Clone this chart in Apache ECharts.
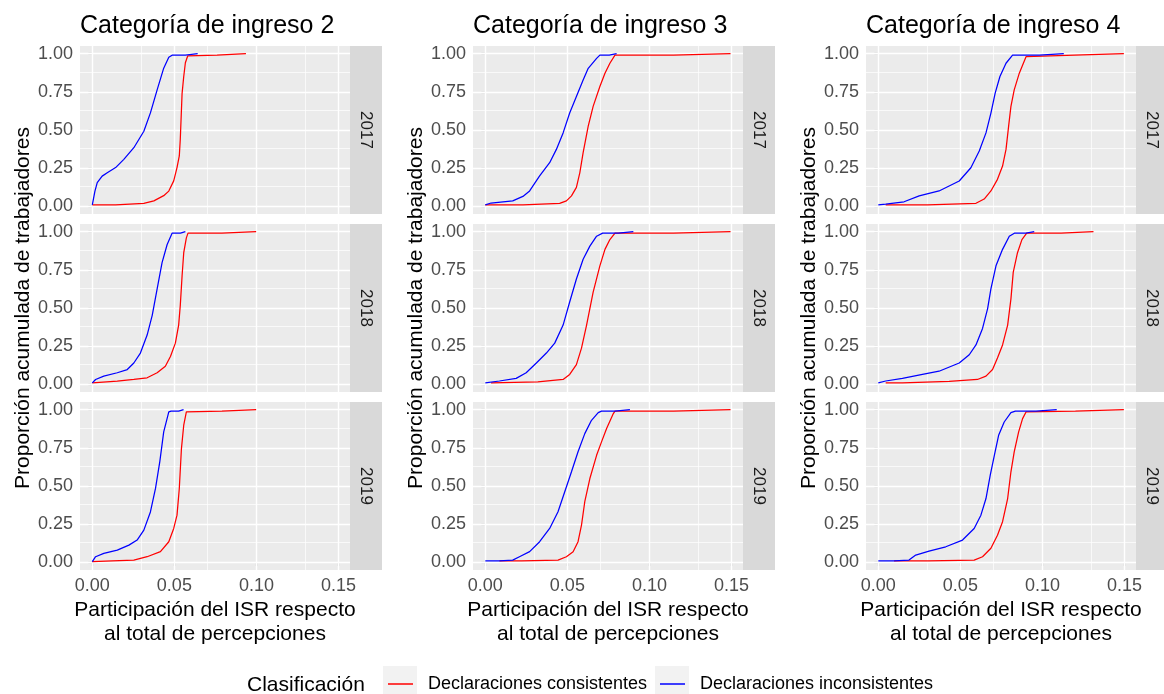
<!DOCTYPE html>
<html>
<head>
<meta charset="utf-8">
<script src="https://cdn.jsdelivr.net/npm/echarts@6/dist/echarts.min.js"></script>
<style>html,body{margin:0;padding:0;background:#fff}#c{width:1164px;height:694px}</style>
</head>
<body>
<div id="c"></div>
<script>
// ---------- DATA ----------
const panelTitles = ['Categoría de ingreso 2', 'Categoría de ingreso 3', 'Categoría de ingreso 4'];
const years = ['2017', '2018', '2019'];
const seriesNames = ['Declaraciones consistentes', 'Declaraciones inconsistentes'];
const xTicks = [0, 0.05, 0.10, 0.15];
const xMinor = [0.025, 0.075, 0.125];
const yTicks = [0, 0.25, 0.5, 0.75, 1];
const yMinor = [0.125, 0.375, 0.625, 0.875];

// Categoría 2
const c2_17_cons = [[0,0.01],[0.0142,0.01],[0.0142,0.02],[0.0314,0.02],[0.0375,0.036],[0.0435,0.07],[0.0466,0.10],[0.0496,0.167],[0.0516,0.254],[0.053,0.33],[0.0536,0.44],[0.0547,0.74],[0.0557,0.85],[0.0567,0.94],[0.0581,0.985],[0.059,0.99],[0.076,0.99],[0.077,1],[0.0936,1]];
const c2_17_inc = [[0,0.01],[0.0016,0.10],[0.003,0.156],[0.006,0.198],[0.0091,0.22],[0.0142,0.254],[0.0192,0.308],[0.0253,0.384],[0.0314,0.492],[0.0354,0.612],[0.0395,0.763],[0.0435,0.905],[0.0466,0.976],[0.0486,0.99],[0.0567,0.99],[0.0567,1],[0.0642,1]];
const c2_18_cons = [[0,0.01],[0.0152,0.022],[0.0253,0.032],[0.0334,0.043],[0.0395,0.076],[0.0445,0.119],[0.0476,0.183],[0.0506,0.27],[0.0526,0.388],[0.0536,0.517],[0.0547,0.711],[0.0557,0.862],[0.0573,0.959],[0.0583,0.99],[0.079,0.99],[0.079,1],[0.0998,1]];
const c2_18_inc = [[0,0.01],[0.002,0.032],[0.007,0.054],[0.0152,0.076],[0.0213,0.097],[0.0253,0.14],[0.0293,0.205],[0.0334,0.323],[0.0365,0.452],[0.0395,0.625],[0.0425,0.797],[0.0456,0.916],[0.0486,0.99],[0.0537,0.99],[0.0545,1],[0.0567,1]];
const c2_19_cons = [[0,0.005],[0.0122,0.01],[0.0253,0.015],[0.0334,0.037],[0.0415,0.07],[0.0466,0.135],[0.0496,0.222],[0.0516,0.309],[0.053,0.484],[0.0543,0.745],[0.0557,0.898],[0.0573,0.985],[0.058,0.99],[0.079,0.99],[0.079,1],[0.0998,1]];
const c2_19_inc = [[0,0.005],[0.002,0.037],[0.007,0.059],[0.0152,0.08],[0.0223,0.113],[0.0273,0.146],[0.0314,0.211],[0.0354,0.33],[0.0385,0.484],[0.0411,0.658],[0.0435,0.854],[0.0466,0.985],[0.048,0.99],[0.0526,0.99],[0.053,1],[0.0556,1]];
// Categoría 3
const c3_17_cons = [[0,0.01],[0.0229,0.01],[0.0229,0.02],[0.0453,0.02],[0.0494,0.036],[0.0525,0.069],[0.0555,0.124],[0.0576,0.221],[0.0596,0.352],[0.0627,0.525],[0.0657,0.655],[0.0698,0.785],[0.0729,0.872],[0.0759,0.937],[0.079,0.99],[0.1147,0.99],[0.1147,1],[0.1494,1]];
const c3_17_inc = [[0,0.01],[0.0035,0.022],[0.0167,0.036],[0.0229,0.065],[0.027,0.101],[0.0331,0.199],[0.0392,0.286],[0.0433,0.373],[0.0474,0.481],[0.0514,0.611],[0.0555,0.72],[0.0596,0.828],[0.0627,0.904],[0.0678,0.969],[0.0698,0.99],[0.0755,0.99],[0.0755,1],[0.08,1]];
const c3_18_cons = [[0.0035,0.01],[0.032,0.017],[0.033,0.03],[0.0474,0.032],[0.0514,0.065],[0.0555,0.129],[0.0586,0.237],[0.0617,0.388],[0.0657,0.604],[0.0698,0.776],[0.0729,0.884],[0.0759,0.948],[0.079,0.99],[0.1147,0.99],[0.1147,1],[0.1494,1]];
const c3_18_inc = [[0,0.01],[0.0086,0.022],[0.0188,0.039],[0.0249,0.076],[0.0311,0.14],[0.0372,0.205],[0.0423,0.27],[0.0474,0.388],[0.0514,0.539],[0.0555,0.69],[0.0596,0.819],[0.0637,0.905],[0.0678,0.97],[0.0715,0.99],[0.081,0.99],[0.081,1],[0.0902,1]];
const c3_19_cons = [[0.0086,0.01],[0.022,0.01],[0.022,0.015],[0.0443,0.015],[0.0494,0.037],[0.0535,0.07],[0.0565,0.135],[0.0586,0.244],[0.0606,0.397],[0.0637,0.549],[0.0678,0.701],[0.0708,0.789],[0.0739,0.876],[0.078,0.974],[0.079,0.99],[0.1147,0.99],[0.1147,1],[0.1494,1]];
const c3_19_inc = [[0,0.01],[0.0086,0.01],[0.0167,0.015],[0.0208,0.037],[0.027,0.07],[0.0331,0.135],[0.0392,0.222],[0.0443,0.331],[0.0484,0.462],[0.0525,0.593],[0.0565,0.724],[0.0606,0.843],[0.0647,0.93],[0.0688,0.98],[0.0708,0.99],[0.079,0.99],[0.079,1],[0.0881,1]];
// Categoría 4
const c4_17_cons = [[0.0045,0.01],[0.03,0.01],[0.03,0.02],[0.0595,0.02],[0.0645,0.048],[0.0686,0.101],[0.0726,0.177],[0.0757,0.264],[0.0778,0.373],[0.0794,0.525],[0.0808,0.655],[0.0828,0.763],[0.0859,0.872],[0.09,0.98],[0.0905,0.99],[0.1195,0.99],[0.1195,1],[0.1496,1]];
const c4_17_inc = [[0,0.01],[0.0045,0.015],[0.0157,0.03],[0.0249,0.069],[0.037,0.101],[0.0493,0.166],[0.0564,0.253],[0.0615,0.362],[0.0656,0.481],[0.0686,0.611],[0.0712,0.741],[0.0741,0.85],[0.0778,0.937],[0.0818,0.99],[0.0981,0.99],[0.0981,1],[0.113,1]];
const c4_18_cons = [[0.0045,0.01],[0.0147,0.01],[0.0147,0.02],[0.0432,0.02],[0.0432,0.03],[0.0604,0.032],[0.0656,0.054],[0.0696,0.097],[0.0726,0.172],[0.0757,0.258],[0.0788,0.388],[0.0808,0.56],[0.0822,0.733],[0.0848,0.862],[0.0875,0.948],[0.0904,0.99],[0.1114,0.99],[0.1114,1],[0.1311,1]];
const c4_18_inc = [[0,0.01],[0.0045,0.022],[0.0147,0.039],[0.0269,0.065],[0.037,0.086],[0.0493,0.14],[0.0554,0.194],[0.0595,0.258],[0.0635,0.366],[0.0666,0.496],[0.0686,0.625],[0.0717,0.776],[0.0757,0.884],[0.0798,0.97],[0.0829,0.99],[0.09,0.99],[0.09,1],[0.095,1]];
const c4_19_cons = [[0.0096,0.01],[0.0305,0.01],[0.0305,0.015],[0.0584,0.015],[0.0635,0.037],[0.0686,0.092],[0.0726,0.178],[0.0757,0.266],[0.0788,0.418],[0.0808,0.593],[0.0828,0.724],[0.0855,0.854],[0.0879,0.941],[0.09,0.985],[0.0905,0.99],[0.1201,0.99],[0.1201,1],[0.1496,1]];
const c4_19_inc = [[0,0.01],[0.0096,0.01],[0.0096,0.015],[0.0187,0.015],[0.0228,0.048],[0.0309,0.074],[0.0411,0.102],[0.0513,0.146],[0.0584,0.222],[0.0625,0.309],[0.0656,0.418],[0.0682,0.571],[0.0707,0.701],[0.0733,0.832],[0.0767,0.919],[0.0808,0.98],[0.0835,0.99],[0.0961,0.99],[0.0961,1],[0.1087,1]];

const panelData = [
  [[c2_17_cons, c2_17_inc], [c2_18_cons, c2_18_inc], [c2_19_cons, c2_19_inc]],
  [[c3_17_cons, c3_17_inc], [c3_18_cons, c3_18_inc], [c3_19_cons, c3_19_inc]],
  [[c4_17_cons, c4_17_inc], [c4_18_cons, c4_18_inc], [c4_19_cons, c4_19_inc]]
];

// ---------- LAYOUT / STYLE ----------
const FONT = '"Liberation Sans", Arial, sans-serif';
const colLeft = [80, 473, 866];
const rowTop = [46, 224, 402];
const panelW = 270, panelH = 168, stripW = 32;
const colors = ['#FF0000', '#0000FF'];

const grids = [], xAxes = [], yAxes = [], series = [], titles = [], graphics = [];
const fmt = v => Number(v).toFixed(2);

for (let c = 0; c < 3; c++) {
  titles.push({
    text: panelTitles[c], left: colLeft[c], top: 14, padding: 0,
    textStyle: { fontFamily: FONT, fontSize: 25, fontWeight: 'normal', color: '#000' }
  });
  for (let r = 0; r < 3; r++) {
    const gi = grids.length;
    grids.push({
      left: colLeft[c], top: rowTop[r], width: panelW, height: panelH,
      show: true, backgroundColor: '#EBEBEB', borderWidth: 0,
      containLabel: false, outerBoundsMode: 'none'
    });
    const bottom = r === 2;
    xAxes.push({
      type: 'value', gridIndex: gi, min: -0.0075, max: 0.157,
      axisLine: { show: false },
      axisTick: { show: bottom, length: 4, customValues: xTicks, lineStyle: { color: '#333333', width: 1.1 } },
      axisLabel: { show: bottom, customValues: xTicks, formatter: fmt, margin: 7, color: '#4D4D4D', fontSize: 18, fontFamily: FONT },
      splitLine: { show: false },
      name: bottom ? 'Participación del ISR respecto\nal total de percepciones' : '',
      nameLocation: 'middle', nameGap: 28,
      nameTextStyle: { fontFamily: FONT, fontSize: 21, color: '#000', lineHeight: 24 }
    });
    yAxes.push({
      type: 'value', gridIndex: gi, min: -0.05, max: 1.05,
      axisLine: { show: false },
      axisTick: { show: true, length: 4, customValues: yTicks, lineStyle: { color: '#333333', width: 1.1 } },
      axisLabel: { show: true, customValues: yTicks, formatter: fmt, margin: 7, color: '#4D4D4D', fontSize: 18, fontFamily: FONT },
      splitLine: { show: false },
      name: r === 1 ? 'Proporción acumulada de trabajadores' : '',
      nameLocation: 'middle', nameRotate: 90, nameGap: 46,
      nameTextStyle: { fontFamily: FONT, fontSize: 21, color: '#000' }
    });
    // grid lines (through the axis scales)
    const ml = [];
    xMinor.forEach(v => ml.push({ xAxis: v, lineStyle: { color: '#FFFFFF', width: 0.7, type: 'solid' } }));
    yMinor.forEach(v => ml.push({ yAxis: v, lineStyle: { color: '#FFFFFF', width: 0.7, type: 'solid' } }));
    xTicks.forEach(v => ml.push({ xAxis: v, lineStyle: { color: '#FFFFFF', width: 1.4, type: 'solid' } }));
    yTicks.forEach(v => ml.push({ yAxis: v, lineStyle: { color: '#FFFFFF', width: 1.4, type: 'solid' } }));
    series.push({
      type: 'line', xAxisIndex: gi, yAxisIndex: gi, data: [], silent: true,
      markLine: { silent: true, z: 1, symbol: ['none', 'none'], label: { show: false },
        emphasis: { disabled: true }, animation: false, data: ml }
    });
    for (let s = 0; s < 2; s++) {
      series.push({
        name: seriesNames[s], type: 'line', xAxisIndex: gi, yAxisIndex: gi, z: 3,
        data: panelData[c][r][s], showSymbol: false, symbol: 'none',
        lineStyle: { color: colors[s], width: 1.25 }, itemStyle: { color: colors[s] },
        emphasis: { disabled: true }
      });
    }
    // facet strip
    graphics.push({
      type: 'rect', silent: true,
      shape: { x: colLeft[c] + panelW, y: rowTop[r], width: stripW, height: panelH },
      style: { fill: '#D9D9D9' }
    });
    graphics.push({
      type: 'text', silent: true,
      x: colLeft[c] + panelW + stripW / 2, y: rowTop[r] + panelH / 2, rotation: -Math.PI / 2,
      style: { text: years[r], fontFamily: FONT, fontSize: 17, fill: '#1A1A1A', align: 'center', verticalAlign: 'middle' }
    });
  }
}

// legend decorations
graphics.push({ type: 'text', silent: true, x: 247, y: 685,
  style: { text: 'Clasificación', fontFamily: FONT, fontSize: 21, fill: '#000', align: 'left', verticalAlign: 'middle' } });
graphics.push({ type: 'rect', silent: true, z: -1, shape: { x: 383, y: 666, width: 34, height: 34 }, style: { fill: '#F2F2F2' } });
graphics.push({ type: 'rect', silent: true, z: -1, shape: { x: 655, y: 666, width: 34, height: 34 }, style: { fill: '#F2F2F2' } });

const legendCommon = {
  orient: 'horizontal', top: 674, itemWidth: 25, itemHeight: 1.5, padding: 0,
  icon: 'rect',
  formatter: n => '  ' + n,
  textStyle: { fontFamily: FONT, fontSize: 18, color: '#000', lineHeight: 20 },
  selectedMode: false
};

const chart = echarts.init(document.getElementById('c'), null, { renderer: 'canvas' });
chart.setOption({
  animation: false,
  backgroundColor: '#FFFFFF',
  title: titles,
  grid: grids,
  xAxis: xAxes,
  yAxis: yAxes,
  legend: [
    Object.assign({}, legendCommon, { left: 388, data: [seriesNames[0]] }),
    Object.assign({}, legendCommon, { left: 660, data: [seriesNames[1]] })
  ],
  graphic: { elements: graphics },
  series: series
});
</script>
</body>
</html>
